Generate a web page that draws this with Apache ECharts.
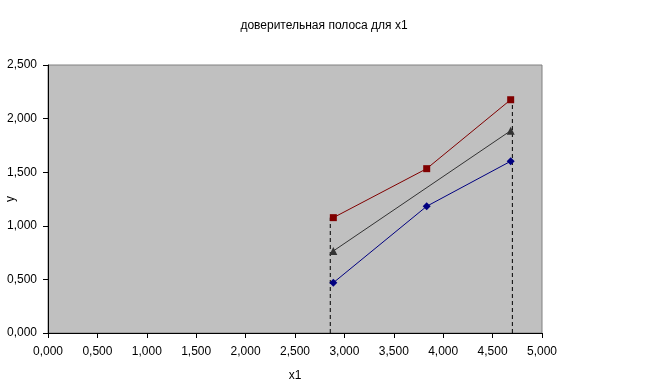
<!DOCTYPE html>
<html><head><meta charset="utf-8">
<script src="https://cdn.jsdelivr.net/npm/echarts@6/dist/echarts.min.js"></script>
<style>html,body{margin:0;padding:0;background:#fff}#c{width:648px;height:391px}</style>
</head><body><div id="c"></div>
<script>
const xVals = [2.888, 3.833, 4.683];
const upper = [1.076, 1.533, 2.176];
const lower = [0.469, 1.182, 1.602];
const midX = [2.888, 4.683];
const mid = [0.765, 1.887];
const leftBoundX = 2.857;
const rightBoundX = 4.70;
const xTicks = [0, 0.5, 1, 1.5, 2, 2.5, 3, 3.5, 4, 4.5, 5];
const yTicks = [0, 0.5, 1, 1.5, 2, 2.5];

const fmt = v => v.toFixed(3).replace('.', ',');
const font = 'Liberation Sans, Arial, sans-serif';
const chart = echarts.init(document.getElementById('c'));
chart.setOption({
  animation: false,
  title: { text: 'доверительная полоса для x1', left: 'center', top: 15,
    textStyle: { fontFamily: font, fontSize: 12, fontWeight: 'normal', color: '#000' } },
  grid: { left: 48, right: 106, top: 65, bottom: 58, outerBoundsMode: 'none', containLabel: false,
    show: true, backgroundColor: '#C0C0C0', borderColor: '#808080', borderWidth: 1 },
  xAxis: { type: 'value', min: 0, max: 5, interval: 0.5, name: 'x1', nameLocation: 'middle', nameGap: 37,
    nameMoveOverlap: false,
    nameTextStyle: { fontFamily: font, fontSize: 12, color: '#000' },
    axisLine: { show: true, onZero: false, lineStyle: { color: '#000' } },
    axisTick: { show: true, length: 5, lineStyle: { color: '#000' } },
    axisLabel: { formatter: fmt, fontFamily: font, fontSize: 12, color: '#000', margin: 13 },
    splitLine: { show: false } },
  yAxis: { type: 'value', min: 0, max: 2.5, interval: 0.5, name: 'y', nameLocation: 'middle', nameGap: 31,
    nameMoveOverlap: false,
    nameTextStyle: { fontFamily: font, fontSize: 12, color: '#000' },
    axisLine: { show: true, onZero: false, lineStyle: { color: '#000' } },
    axisTick: { show: true, length: 5, lineStyle: { color: '#000' } },
    axisLabel: { formatter: fmt, fontFamily: font, fontSize: 12, color: '#000', margin: 11 },
    splitLine: { show: false } },
  series: [
    { type: 'line', data: xVals.map((x, i) => [x, upper[i]]), color: '#800000',
      lineStyle: { width: 1, color: '#800000' }, symbol: 'rect', symbolSize: 7, itemStyle: { color: '#800000' }, z: 3 },
    { type: 'line', data: midX.map((x, i) => [x, mid[i]]), color: '#333',
      lineStyle: { width: 1, color: '#333' }, symbol: 'triangle', symbolSize: 8, itemStyle: { color: '#333' }, z: 3 },
    { type: 'line', data: xVals.map((x, i) => [x, lower[i]]), color: '#000080',
      lineStyle: { width: 1, color: '#000080' }, symbol: 'diamond', symbolSize: 8, itemStyle: { color: '#000080' }, z: 3 },
    { type: 'line', data: [[leftBoundX, 0], [leftBoundX, upper[0]]], symbol: 'none',
      lineStyle: { width: 1, type: [4, 3], color: '#000' }, z: 2 },
    { type: 'line', data: [[rightBoundX, 0], [rightBoundX, upper[2]]], symbol: 'none',
      lineStyle: { width: 1, type: [4, 3], color: '#000' }, z: 2 }
  ]
});
</script></body></html>
